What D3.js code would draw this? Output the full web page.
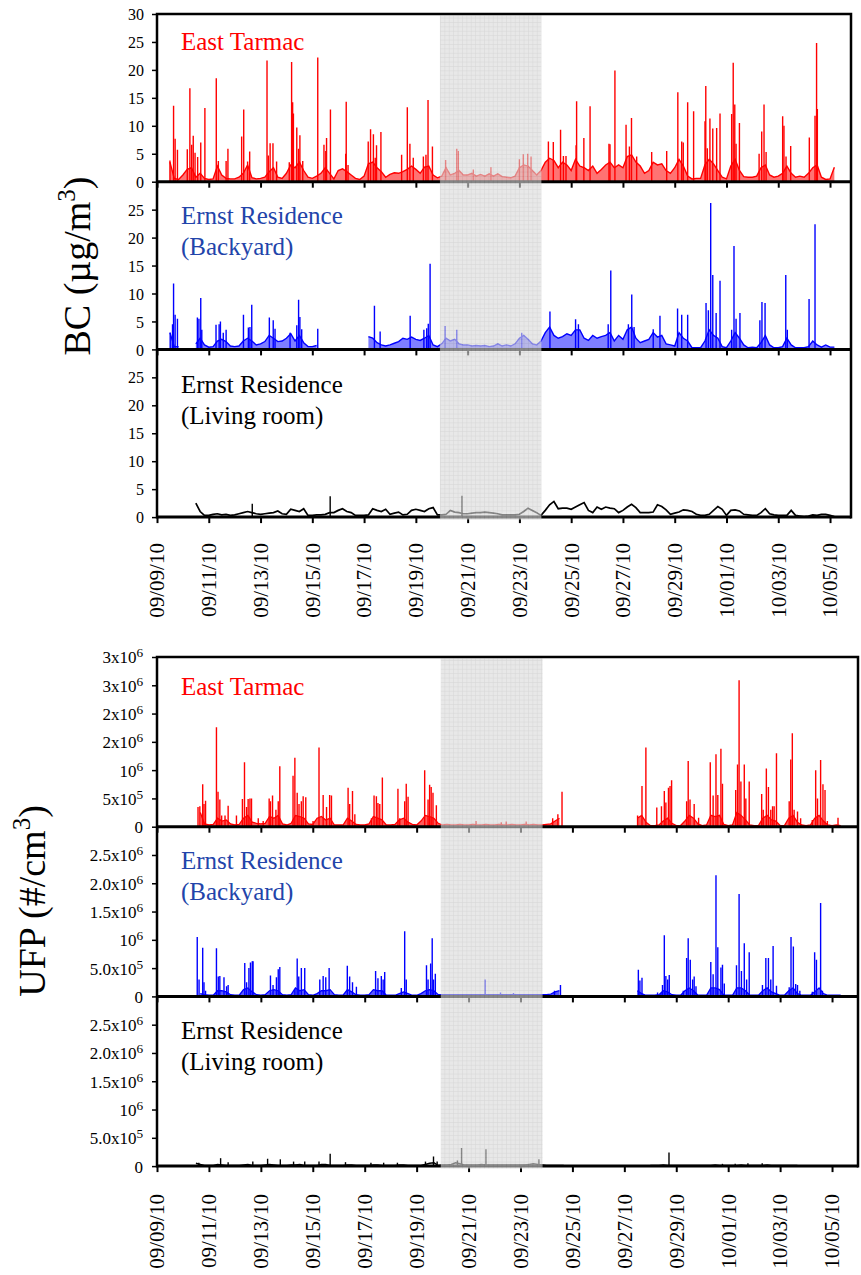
<!DOCTYPE html>
<html>
<head>
<meta charset="utf-8">
<script src="https://cdn.jsdelivr.net/npm/d3@7"></script>
<style>
  body { margin: 0; background: #fff; }
  svg text { font-family: "Liberation Serif", "Times New Roman", serif; fill: #000; }
</style>
</head>
<body>
<div id="chart"></div>
<script>
// ---- data ----------------------------------------------------------------
// base series: one value every 4 hours from 09/09/10 00:00 (6 values per day row)
// spikes: [day offset from 09/09/10, value]

const dateTicks = ["09/09/10", "09/11/10", "09/13/10", "09/15/10", "09/17/10", "09/19/10", "09/21/10",
  "09/23/10", "09/25/10", "09/27/10", "09/29/10", "10/01/10", "10/03/10", "10/05/10"];
const shadedPeriod = [10.93, 14.85];   // days after 09/09/10

// BC, ug/m3
const bcTarmac = [
  null, null, null, 3.5, 0.6, 0.4,
  1.2, 2.2, 2.5, 0.8, 1.5, 0.6,
  0.4, 0.5, 2.8, 1.2, 0.6, 0.5,
  0.5, 0.8, 1.5, 3.0, 0.7, 0.5,
  0.6, 0.8, 1.8, 2.5, 0.8, 0.6,
  1.5, 3.0, 2.5, 3.5, 2.0, 0.8,
  0.6, 1.0, 1.5, 2.5, 1.5, 0.5,
  2.0, 2.3, 1.8, 1.2, 0.6, 0.4,
  1.0, 3.2, 3.5, 2.5, 1.8, 0.8,
  1.3, 1.6, 1.5, 1.8, 2.2, 2.8,
  2.2, 1.5, 2.6, 2.8, 1.2, 0.7,
  1.0, 2.5, 1.2, 1.5, 2.0, 1.2,
  1.2, 1.5, 1.0, 1.3, 1.0, 1.4,
  1.0, 1.4, 0.9, 0.8, 0.7, 1.0,
  2.5, 3.0, 2.8, 2.0, 1.2, 2.0,
  3.5, 4.2, 3.8, 2.5, 3.5, 3.0,
  2.0, 4.0, 2.8, 2.5, 2.0, 2.8,
  1.5, 2.2, 3.0, 3.5, 2.5, 3.0,
  2.5, 4.5, 4.8, 3.5, 2.8, 1.5,
  2.0, 3.5, 3.0, 3.2, 2.0, 1.5,
  2.5, 4.0, 2.8, 1.0, 0.5, 0.6,
  0.6, 3.0, 4.0, 3.2, 2.0, 0.8,
  0.5, 2.8, 4.0, 2.0, 0.9, 0.8,
  0.8, 1.0, 2.5, 3.0, 1.2, 0.8,
  1.0, 1.5, 2.8, 1.5, 0.8, 1.0,
  0.8, 1.5, 2.5, 3.0, 0.8, 0.4,
  0.5, 2.6, null, null, null, null
];
const bcTarmacSpikes = [
  [0.50, 3.8], [0.64, 13.6], [0.70, 7.7], [0.79, 5.7], [1.17, 5.8], [1.27, 16.7], [1.34, 6.6],
  [1.40, 8.2], [1.47, 5.2], [1.57, 4.4], [1.69, 7.0], [1.85, 13.2], [2.29, 18.5], [2.37, 3.7],
  [2.67, 3.7], [2.74, 5.9], [3.27, 8.1], [3.35, 12.9], [3.50, 3.6], [3.58, 5.4], [4.25, 21.7],
  [4.30, 4.7], [4.37, 6.9], [4.48, 6.9], [4.62, 3.6], [5.11, 3.5], [5.20, 21.4], [5.24, 14.2],
  [5.27, 12.2], [5.40, 9.7], [5.47, 5.9], [5.52, 8.3], [5.63, 3.7], [6.21, 22.2], [6.45, 6.6],
  [6.52, 5.5], [6.55, 7.8], [6.70, 12.9], [7.29, 5.0], [7.31, 14.3], [7.38, 3.0], [8.16, 7.2],
  [8.25, 9.4], [8.36, 8.5], [8.43, 4.3], [8.48, 6.5], [8.65, 8.9], [9.45, 4.8], [9.67, 13.3],
  [9.77, 6.8], [9.90, 4.3], [10.29, 4.5], [10.39, 4.8], [10.47, 14.6], [10.64, 6.3],
  [11.15, 3.9], [11.58, 5.9], [11.64, 5.5], [12.22, 2.2], [12.90, 2.6], [14.00, 4.0],
  [14.15, 4.9], [14.32, 5.0], [14.45, 4.5], [15.12, 7.2], [15.31, 7.1], [15.59, 9.3],
  [15.70, 4.6], [15.80, 4.6], [16.19, 6.5], [16.21, 14.4], [16.49, 7.8], [16.73, 13.5],
  [17.46, 6.8], [17.50, 6.7], [17.69, 19.9], [18.12, 10.2], [18.25, 6.3], [18.33, 11.4],
  [18.53, 4.5], [19.11, 5.3], [19.69, 5.5], [20.12, 16.0], [20.27, 7.2], [20.33, 7.0],
  [20.50, 14.2], [20.73, 12.6], [21.17, 10.8], [21.20, 17.1], [21.26, 6.0], [21.36, 11.3],
  [21.47, 9.5], [21.62, 9.6], [21.75, 12.2], [22.20, 12.1], [22.26, 21.3], [22.32, 13.8],
  [22.37, 6.8], [22.50, 10.5], [23.26, 5.0], [23.36, 9.0], [23.45, 13.8], [23.53, 5.3],
  [24.17, 11.7], [24.22, 10.0], [24.30, 4.5], [24.48, 6.4], [25.20, 7.9], [25.42, 11.8],
  [25.48, 24.8], [25.51, 13.0]
];

const bcBackyard = [
  null, null, null, 3.0, 0.5, 0.5,
  null, null, null, 1.0, 2.0, 0.8,
  0.4, 0.5, 1.5, 1.8, 1.4, 0.6,
  0.5, 0.6, 1.5, 2.0, 1.5, 0.8,
  1.0, 1.4, 2.5, 2.0, 1.4, 1.5,
  2.0, 2.8, 1.5, 2.5, 1.2, 0.5,
  0.5, 0.7, null, null, null, null,
  null, null, null, null, null, null,
  null, 2.3, 2.0, 1.2, 0.8, 0.6,
  0.8, 1.1, 1.4, 2.0, 1.8, 2.2,
  1.8, 1.6, 2.0, 2.5, 0.8, 0.5,
  1.0, 2.0, 1.5, 1.8, 1.0, 0.8,
  0.8, 0.6, 0.7, 0.6, 0.7, 0.5,
  0.6, 1.0, 0.6, 0.8, 0.6, 1.0,
  2.0, 2.5, 1.8, 1.0, 0.8, 1.5,
  3.0, 4.0, 2.5, 2.0, 2.3, 2.8,
  2.5, 3.5, 3.5, 2.0, 1.6, 2.5,
  2.0, 2.3, 2.5, 3.0, 1.5, 2.5,
  1.8, 3.5, 4.0, 2.0, 1.2, 1.5,
  1.8, 3.0, 2.2, 2.5, 1.0, 0.8,
  0.6, 3.0, 2.0, 1.5, 0.3, 0.3,
  0.3, 1.5, 3.5, 2.5, 2.0, 0.5,
  0.3, 1.5, 3.0, 2.0, 0.8, 0.3,
  0.4, 0.3, 1.2, 2.5, 0.8, 0.3,
  0.3, 0.5, 2.0, 0.8, 0.3, 0.3,
  0.3, 0.5, 1.5, 0.8, 0.4, 0.8,
  0.4, 0.4, null, null, null, null
];
const bcBackyardSpikes = [
  [0.51, 3.0], [0.60, 4.5], [0.64, 11.8], [0.70, 6.2], [0.79, 5.5], [1.56, 5.7], [1.62, 5.5],
  [1.69, 9.2], [1.73, 3.5], [2.28, 4.4], [2.40, 4.5], [2.45, 5.0], [2.56, 3.0], [2.67, 3.5],
  [3.34, 6.2], [3.53, 3.9], [3.59, 4.0], [3.66, 8.0], [4.34, 5.7], [4.49, 5.2], [4.56, 3.7],
  [5.14, 3.0], [5.40, 4.3], [5.47, 8.9], [5.52, 5.8], [5.59, 3.6], [6.21, 3.7], [8.40, 7.8],
  [8.62, 3.2], [9.78, 6.0], [10.31, 3.5], [10.42, 3.8], [10.48, 4.6], [10.55, 15.3],
  [11.13, 4.2], [11.58, 3.5], [14.09, 3.0], [15.18, 6.8], [16.17, 5.4], [16.28, 4.5],
  [17.43, 4.5], [17.53, 14.1], [18.21, 4.5], [18.34, 9.8], [18.43, 4.0], [19.17, 3.6],
  [19.43, 6.0], [20.11, 7.3], [20.27, 6.2], [20.50, 6.2], [21.21, 8.3], [21.30, 7.0],
  [21.39, 26.2], [21.47, 13.3], [21.60, 6.5], [21.75, 12.3], [22.20, 3.5], [22.29, 18.5],
  [22.37, 5.5], [22.52, 6.5], [23.29, 5.2], [23.37, 8.5], [23.49, 8.3], [24.29, 13.3],
  [24.35, 3.5], [25.19, 9.0], [25.42, 22.4]
];

const bcLiving = [
  null, null, null, null, null, null,
  null, null, null, 2.5, 1.0, 0.3,
  0.3, 0.5, 0.6, 0.4, 0.5, 0.3,
  0.4, 0.6, 0.8, 1.0, 0.8, 0.6,
  0.5, 0.6, 0.7, 0.8, 1.1, 0.6,
  0.5, 1.4, 1.2, 1.0, 1.5, 0.3,
  0.3, 0.4, 0.4, 0.5, 0.8, 0.8,
  1.2, 1.5, 1.0, 0.8, 0.3, 0.3,
  0.3, 0.4, 1.5, 1.2, 1.0, 1.4,
  0.5, 0.7, 0.9, 0.4, 0.5, 1.2,
  1.4, 1.2, 1.0, 1.5, 1.7, 0.4,
  0.4, 0.5, 1.2, 0.9, 0.8, 0.6,
  0.6, 0.7, 0.8, 0.8, 0.9, 0.8,
  0.7, 0.6, 0.4, 0.4, 0.4, 0.4,
  0.5, 1.0, 1.6, 1.2, 0.8, 0.3,
  1.2, 2.2, 2.8, 1.5, 1.6, 1.6,
  1.4, 1.8, 2.2, 2.6, 1.2, 0.8,
  1.8, 1.4, 1.8, 1.6, 1.5, 0.8,
  1.2, 1.8, 2.3, 1.7, 0.8, 0.8,
  0.8, 0.9, 2.2, 1.9, 1.3, 0.5,
  0.7, 0.9, 1.3, 1.2, 1.0, 0.5,
  0.3, 0.3, 0.5, 1.2, 1.9, 1.4,
  0.3, 1.2, 1.3, 1.1, 0.5, 0.4,
  0.3, 0.3, 0.8, 1.5, 0.6, 0.4,
  0.3, 0.3, 0.3, 1.2, 0.3, 0.2,
  0.1, 0.2, 0.4, 0.3, 0.5, 0.5,
  0.3, 0.1, null, null, null, null
];
const bcLivingSpikes = [[3.68, 2.4], [6.69, 3.75], [11.78, 3.8]];

// UFP, in units of 10^5 #/cm3
const ufpTarmac = [
  null, null, null, null, null, null,
  null, null, null, null, 2.5, 0.5,
  0.3, 0.4, 1.5, 1.0, 1.2, 0.5,
  0.3, 0.4, 1.5, 2.0, 0.8, 0.6,
  0.5, 0.6, 1.8, 1.5, 2.0, 0.5,
  0.3, 0.6, 2.0, 1.8, 1.5, 0.5,
  0.4, 1.5, 1.8, 1.2, 1.5, 0.3,
  0.3, 0.3, 1.5, 1.0, 0.4, 0.3,
  0.3, 0.5, 1.8, 1.5, 1.2, 0.3,
  0.3, 0.4, 1.2, 1.5, 0.8, 0.4,
  0.3, 1.0, 2.0, 1.8, 1.5, 0.6,
  0.3, 0.4, 0.3, 0.3, 0.4, 0.3,
  0.3, 0.4, 0.3, 0.3, 0.4, 0.3,
  0.3, 0.4, 0.3, 0.3, 0.4, 0.3,
  0.3, 0.4, 0.3, 0.4, 0.3, 0.3,
  0.4, 0.5, 1.0, 1.5, null, null,
  null, null, null, null, null, null,
  null, null, null, null, null, null,
  null, null, null, 1.5, 2.0, 0.8,
  0.2, 0.2, 0.3, 1.0, 1.5, 0.6,
  0.2, 0.2, 1.0, 2.0, 1.5, 0.5,
  0.2, 0.3, 2.0, 1.8, 2.0, 0.4,
  0.2, 0.3, 2.5, 2.0, 1.2, 0.3,
  0.2, 0.2, 1.5, 2.0, 1.2, 1.0,
  0.2, 0.2, 1.5, 2.0, 0.8, 0.3,
  0.2, 0.3, 1.5, 2.0, 1.0, 0.3,
  0.2, 0.3, 0.2, null, null, null
];
const ufpTarmacSpikes = [
  [1.58, 3.5], [1.65, 3.6], [1.76, 7.5], [1.81, 4.0], [1.87, 4.6], [2.29, 17.6], [2.35, 6.2],
  [2.42, 4.8], [2.49, 2.0], [2.62, 2.0], [2.74, 3.7], [3.06, 2.0], [3.29, 4.9], [3.37, 11.4],
  [3.45, 3.5], [3.51, 4.9], [3.58, 5.0], [3.64, 5.0], [3.90, 1.5], [4.09, 1.0], [4.32, 5.0],
  [4.37, 4.5], [4.45, 5.5], [4.58, 3.0], [4.67, 4.5], [4.73, 10.7], [5.24, 9.0], [5.31, 12.2],
  [5.40, 6.0], [5.47, 4.0], [5.56, 4.5], [5.63, 5.4], [5.73, 5.2], [6.01, 1.0], [6.24, 14.0],
  [6.40, 5.6], [6.53, 3.5], [6.65, 5.6], [6.72, 5.5], [7.36, 6.9], [7.42, 4.0], [7.53, 6.3],
  [7.62, 2.2], [8.26, 1.5], [8.36, 5.5], [8.45, 5.4], [8.51, 4.2], [8.58, 4.0], [8.68, 8.7],
  [9.28, 6.7], [9.35, 1.5], [9.54, 4.5], [9.60, 7.6], [9.67, 5.3], [10.31, 10.0], [10.44, 4.8],
  [10.50, 7.4], [10.56, 7.0], [10.63, 6.0], [10.76, 3.8], [12.29, 1.0], [13.26, 0.8],
  [13.45, 0.9], [14.22, 0.9], [15.24, 1.5], [15.44, 2.2], [15.60, 6.2], [18.51, 2.0],
  [18.68, 7.2], [18.83, 14.0], [19.25, 3.4], [19.43, 3.6], [19.54, 6.3], [19.60, 4.3],
  [19.70, 6.9], [19.76, 7.2], [19.82, 8.2], [20.40, 4.5], [20.46, 11.6], [20.53, 4.8],
  [20.69, 4.0], [20.86, 1.6], [21.31, 11.4], [21.42, 5.5], [21.53, 12.8], [21.60, 5.6],
  [21.72, 13.8], [21.78, 7.6], [22.29, 6.5], [22.36, 11.0], [22.42, 25.9], [22.49, 8.0],
  [22.62, 11.0], [22.68, 5.0], [22.81, 8.0], [23.29, 5.8], [23.35, 3.0], [23.47, 10.3],
  [23.55, 7.0], [23.64, 3.0], [23.71, 3.6], [23.77, 3.6], [23.86, 13.0], [24.35, 4.5],
  [24.41, 11.9], [24.47, 16.5], [24.54, 3.0], [24.67, 2.7], [24.79, 1.5], [25.24, 1.2],
  [25.37, 10.0], [25.44, 5.0], [25.56, 11.8], [25.65, 7.5], [25.73, 6.5], [25.82, 1.0],
  [26.23, 1.6]
];

const ufpBackyard = [
  null, null, null, null, null, null,
  null, null, null, null, 0.5, 0.3,
  0.2, 0.2, 1.0, 1.0, 0.8, 0.3,
  0.2, 0.2, 1.2, 1.5, 0.8, 0.3,
  0.2, 0.3, 1.0, 1.2, 1.0, 0.3,
  0.2, 0.3, 1.5, 1.0, 1.2, 0.3,
  0.2, 0.5, 1.0, 1.0, 1.2, 0.3,
  0.2, 0.2, 1.2, 0.8, 0.3, 0.2,
  0.2, 0.3, 1.2, 1.0, 1.0, 0.2,
  0.2, 0.2, 0.5, 0.8, 0.5, 0.2,
  0.2, 0.5, 1.0, 1.2, 1.0, 0.3,
  0.3, 0.3, 0.3, 0.3, 0.3, 0.3,
  0.3, 0.3, 0.3, 0.3, 0.3, 0.3,
  0.3, 0.3, 0.3, 0.3, 0.3, 0.3,
  0.3, 0.3, 0.3, 0.3, 0.3, 0.3,
  0.3, 0.4, 0.8, 1.0, null, null,
  null, null, null, null, null, null,
  null, null, null, null, null, null,
  null, null, null, 1.0, 0.5, 0.2,
  0.2, 0.2, 0.3, 1.0, 0.8, 0.3,
  0.2, 0.2, 1.0, 1.5, 1.0, 0.2,
  0.2, 0.2, 1.5, 1.5, 1.2, 0.2,
  0.2, 0.2, 1.5, 1.5, 1.0, 0.2,
  0.2, 0.2, 1.0, 1.5, 0.8, 0.5,
  0.2, 0.2, 1.0, 1.5, 0.5, 0.2,
  0.2, 0.2, 0.8, 1.5, 0.5, 0.2,
  0.2, 0.2, 0.2, null, null, null
];
const ufpBackyardSpikes = [
  [1.55, 10.5], [1.62, 3.0], [1.76, 8.6], [1.81, 2.5], [1.87, 1.0], [2.29, 8.5], [2.36, 3.5],
  [2.42, 3.6], [2.58, 3.4], [2.68, 1.8], [2.74, 2.0], [3.38, 5.9], [3.45, 2.5], [3.54, 5.0],
  [3.60, 6.0], [3.67, 6.2], [3.70, 6.2], [4.37, 3.7], [4.47, 2.0], [4.60, 3.4], [4.67, 4.8],
  [4.73, 5.2], [5.31, 1.3], [5.40, 6.7], [5.46, 3.5], [5.56, 5.0], [5.69, 5.0], [6.27, 3.0],
  [6.40, 3.6], [6.50, 3.4], [6.63, 5.0], [7.33, 5.4], [7.42, 3.5], [7.53, 2.5], [7.68, 1.7],
  [8.42, 4.5], [8.51, 3.2], [8.64, 3.6], [8.71, 3.0], [8.77, 4.3], [9.41, 1.5], [9.54, 11.5],
  [9.60, 3.0], [10.38, 5.5], [10.44, 3.0], [10.54, 5.8], [10.60, 10.3], [10.65, 3.0],
  [10.72, 4.0], [12.64, 3.0], [13.23, 0.7], [13.73, 0.6], [15.31, 1.0], [15.54, 2.0],
  [18.54, 4.7], [18.60, 2.8], [18.68, 3.3], [19.28, 0.7], [19.41, 0.6], [19.47, 2.0],
  [19.54, 10.8], [19.60, 3.6], [19.67, 3.0], [19.73, 3.8], [20.27, 1.0], [20.40, 6.8],
  [20.46, 10.3], [20.54, 6.5], [20.63, 3.0], [20.69, 3.5], [20.76, 1.8], [21.33, 6.1],
  [21.42, 3.9], [21.53, 21.4], [21.60, 8.7], [21.72, 5.1], [21.78, 5.6], [21.85, 2.3],
  [22.32, 5.5], [22.42, 18.1], [22.51, 4.5], [22.62, 9.4], [22.71, 3.0], [22.81, 7.8],
  [23.32, 2.0], [23.45, 6.8], [23.55, 6.8], [23.64, 3.0], [23.73, 8.9], [23.86, 1.9],
  [24.35, 1.6], [24.42, 10.5], [24.51, 8.8], [24.60, 2.2], [24.67, 2.0], [24.76, 1.0],
  [25.24, 0.8], [25.33, 7.8], [25.40, 6.5], [25.56, 16.5], [25.63, 1.0]
];

const ufpLiving = [
  null, null, null, null, null, null,
  null, null, null, 0.5, 0.3, 0.1,
  0.1, 0.1, 0.3, 0.2, 0.1, 0.1,
  0.1, 0.1, 0.2, 0.3, 0.1, 0.1,
  0.1, 0.2, 0.3, 0.2, 0.1, 0.1,
  0.1, 0.2, 0.2, 0.3, 0.1, 0.1,
  0.1, 0.1, 0.3, 0.3, 0.1, 0.1,
  0.1, 0.1, 0.2, 0.2, 0.1, 0.1,
  0.1, 0.1, 0.2, 0.2, 0.1, 0.1,
  0.1, 0.1, 0.2, 0.2, 0.1, 0.1,
  0.1, 0.1, 0.3, 0.5, 0.6, 0.1,
  0.2, 0.2, 0.3, 0.6, 0.4, 0.2,
  0.2, 0.2, 0.2, 0.3, 0.2, 0.2,
  0.2, 0.2, 0.2, 0.2, 0.2, 0.2,
  0.2, 0.2, 0.3, 0.4, 0.3, 0.2,
  0.1, 0.1, 0.1, 0.1, 0.1, null,
  null, null, null, null, null, null,
  null, null, null, null, null, null,
  null, null, null, null, null, null,
  0.1, 0.1, 0.1, 0.2, 0.1, 0.1,
  0.1, 0.1, 0.1, 0.1, 0.1, 0.1,
  0.1, 0.1, 0.1, 0.2, 0.1, 0.1,
  0.1, 0.1, 0.1, 0.2, 0.1, 0.1,
  0.1, 0.1, 0.1, 0.2, 0.1, 0.1,
  0.1, 0.1, 0.1, 0.1, 0.1, null,
  null, null, null, null, null, null,
  null, null, null, null, null, null
];
const ufpLivingSpikes = [
  [1.61, 0.6], [2.45, 1.4], [2.74, 0.7], [3.69, 0.8], [4.26, 1.3], [4.75, 1.2], [5.26, 0.8],
  [5.69, 0.8], [6.24, 0.8], [6.67, 2.2], [7.26, 0.7], [8.24, 0.6], [8.73, 0.6], [9.26, 0.6],
  [10.34, 0.8], [10.65, 1.7], [10.79, 0.8], [11.57, 1.0], [11.73, 3.2], [12.67, 3.0],
  [14.71, 1.2], [19.72, 2.4], [20.60, 0.2], [21.78, 0.4], [22.27, 0.4], [22.76, 0.5], [23.31, 0.5]
];

const bcTicks = [0, 5, 10, 15, 20, 25, 30];
const ufpTicks = [0, 5, 10, 15, 20, 25, 30];
const ufpTopTickLabels = ["0", "5x10^5", "10^6", "2x10^6", "2x10^6", "3x10^6", "3x10^6"];
const ufpTickLabels = ["0", "5.0x10^5", "10^6", "1.5x10^6", "2.0x10^6", "2.5x10^6"];

// ---- drawing -------------------------------------------------------------

const W = 861, H = 1275;
const t0 = Date.UTC(2010, 8, 9);
const DAY = 864e5;
const atDay = d => new Date(t0 + d * DAY);
const parseTick = s => { let p = s.split("/"); return new Date(Date.UTC(2000 + +p[2], +p[0] - 1, +p[1])); };

const svg = d3.select("#chart").append("svg")
  .attr("width", W)
  .attr("height", H)
  .attr("font-family", "Liberation Serif, Times New Roman, serif");

// grey hatched pattern for the shaded period
let pat = svg.append("defs").append("pattern")
  .attr("id", "shadeGrid")
  .attr("width", 4.4).attr("height", 4.4)
  .attr("patternUnits", "userSpaceOnUse");
pat.append("rect").attr("width", 4.4).attr("height", 4.4).attr("fill", "#dadada");
pat.append("path").attr("d", "M0,0.2H4.4M0.2,0V4.4").attr("stroke", "#bdbdbd").attr("stroke-width", 0.7);

function tickText(sel, label, size) {
  let parts = label.split("^");
  sel.append("tspan").text(parts[0]);
  if (parts[1]) sel.append("tspan").attr("dy", "-0.45em").style("font-size", (size * 0.78) + "px").text(parts[1]);
}

function drawGroup(cfg) {
  let x = d3.scaleUtc()
    .domain([atDay(0), atDay(cfg.endDay)])
    .range([cfg.left, cfg.right]);

  let tickDates = dateTicks.map(parseTick);
  let bottomAll = cfg.top + cfg.panelH * cfg.panels.length;

  cfg.panels.forEach((p, i) => {
    let top = cfg.top + i * cfg.panelH;
    let bottom = top + cfg.panelH;
    let y = d3.scaleLinear().domain([0, 30]).range([bottom, top]);

    let g = svg.append("g");
    let clipId = "clip" + cfg.id + i;
    g.append("clipPath").attr("id", clipId)
      .append("rect").attr("x", cfg.left).attr("y", top).attr("width", cfg.right - cfg.left).attr("height", cfg.panelH);
    let plot = g.append("g").attr("clip-path", `url(#${clipId})`);

    let pts = p.base.map((v, k) => ({t: atDay(k / 6), v: v}));

    if (p.fill > 0) {
      let area = d3.area()
        .defined(d => d.v != null)
        .x(d => x(d.t))
        .y0(y(0))
        .y1(d => y(d.v));
      plot.append("path")
        .datum(pts)
        .attr("d", area)
        .attr("fill", p.color)
        .attr("fill-opacity", p.fill);
    }

    let line = d3.line()
      .defined(d => d.v != null)
      .x(d => x(d.t))
      .y(d => y(d.v));
    plot.append("path")
      .datum(pts)
      .attr("d", line)
      .attr("fill", "none")
      .attr("stroke", p.color)
      .attr("stroke-width", p.width);

    plot.selectAll(".spike")
      .data(p.spikes)
      .enter()
      .append("line")
      .attr("class", "spike")
      .attr("x1", d => x(atDay(d[0])))
      .attr("x2", d => x(atDay(d[0])))
      .attr("y1", y(0))
      .attr("y2", d => y(d[1]))
      .attr("stroke", p.color)
      .attr("stroke-width", 1.4);

    // panel label
    let lab = g.append("text")
      .attr("x", cfg.left + 24)
      .attr("y", top + p.labelDy)
      .style("font-size", "25px")
      .style("fill", p.textColor);
    p.label.forEach((s, k) => {
      lab.append("tspan").attr("x", cfg.left + 24).attr("dy", k === 0 ? 0 : 31).text(s);
    });

    // y axis ticks
    let tv = i === 0 ? cfg.ticks : cfg.ticks.slice(0, -1);
    let labels = i === 0 ? cfg.topLabels : cfg.labels;
    let yAxis = d3.axisLeft(y).tickValues(tv).tickSize(5).tickSizeOuter(0).tickFormat("");
    let ya = g.append("g")
      .attr("transform", `translate(${cfg.left},0)`)
      .call(yAxis)
      .attr("font-family", null);
    ya.select(".domain").remove();
    ya.selectAll(".tick line").attr("stroke", "#000").attr("stroke-width", 1.5);
    ya.selectAll(".tick").each(function (d, k) {
      let t = d3.select(this).append("text")
        .attr("x", -cfg.labelGap)
        .attr("dy", "0.35em")
        .attr("text-anchor", "end")
        .style("font-size", cfg.tickFont + "px")
        .style("fill", "#000");
      tickText(t, labels[k], cfg.tickFont);
    });

    // x axis ticks on each panel
    let xAxis = d3.axisBottom(x).tickValues(tickDates).tickSize(6).tickSizeOuter(0).tickFormat("");
    let xa = g.append("g")
      .attr("class", "x-axis")
      .attr("transform", `translate(0,${bottom})`)
      .call(xAxis);
    xa.select(".domain").remove();
    xa.selectAll(".tick line").attr("stroke", "#000").attr("stroke-width", 2);

    g.append("line")
      .attr("x1", cfg.left).attr("x2", cfg.right)
      .attr("y1", bottom).attr("y2", bottom)
      .attr("stroke", "#000").attr("stroke-width", 3);
  });

  // shaded period on top of the data
  svg.append("rect")
    .attr("x", x(atDay(shadedPeriod[0])))
    .attr("y", cfg.top + 1.5)
    .attr("width", x(atDay(shadedPeriod[1])) - x(atDay(shadedPeriod[0])))
    .attr("height", bottomAll - cfg.top + 1)
    .attr("fill", "url(#shadeGrid)")
    .attr("opacity", 0.62);

  // frame: left axis, top and right border
  svg.append("path")
    .attr("d", `M${cfg.left},${bottomAll + 1.5}V${cfg.top}H${cfg.right}V${bottomAll + 1.5}`)
    .attr("fill", "none")
    .attr("stroke", "#000")
    .attr("stroke-width", 2.5);

  // date labels under the last panel
  svg.append("g").selectAll("text")
    .data(tickDates)
    .enter()
    .append("text")
    .attr("transform", (d) => `translate(${x(d)},${bottomAll + cfg.dateGap}) rotate(-90)`)
    .attr("dy", "0.35em")
    .attr("text-anchor", "end")
    .style("font-size", "21px")
    .text((d, k) => dateTicks[k]);

  // axis title
  let title = svg.append("text")
    .attr("transform", `translate(${cfg.titleX},${cfg.titleY}) rotate(-90)`)
    .attr("text-anchor", "middle")
    .style("font-size", "38px");
  title.append("tspan").text(cfg.title);
  title.append("tspan").attr("dy", -15).style("font-size", "25px").text("3");
  title.append("tspan").attr("dy", 15).text(")");
}

drawGroup({
  id: "bc", left: 157, right: 851, top: 14, panelH: 167.7, endDay: 26.81,
  ticks: bcTicks, topLabels: bcTicks.map(String), labels: bcTicks.map(String),
  tickFont: 16, labelGap: 13, dateGap: 26,
  title: "BC (\u00b5g/m", titleX: 90, titleY: 266,
  panels: [
    {label: ["East Tarmac"], labelDy: 36, color: "#ff0000", textColor: "#ff0000", fill: 0.55, width: 1.4, base: bcTarmac, spikes: bcTarmacSpikes},
    {label: ["Ernst Residence", "(Backyard)"], labelDy: 42, color: "#0000ff", textColor: "#2244aa", fill: 0.5, width: 1.4, base: bcBackyard, spikes: bcBackyardSpikes},
    {label: ["Ernst Residence", "(Living room)"], labelDy: 44, color: "#000000", textColor: "#000000", fill: 0, width: 1.7, base: bcLiving, spikes: bcLivingSpikes}
  ]
});

drawGroup({
  id: "ufp", left: 157, right: 858, top: 657, panelH: 169.7, endDay: 27,
  ticks: ufpTicks, topLabels: ufpTopTickLabels, labels: ufpTickLabels,
  tickFont: 17, labelGap: 14, dateGap: 28,
  title: "UFP (#/cm", titleX: 45, titleY: 901,
  panels: [
    {label: ["East Tarmac"], labelDy: 38, color: "#ff0000", textColor: "#ff0000", fill: 0.65, width: 1.3, base: ufpTarmac, spikes: ufpTarmacSpikes},
    {label: ["Ernst Residence", "(Backyard)"], labelDy: 42, color: "#0000ff", textColor: "#2244aa", fill: 0.65, width: 1.3, base: ufpBackyard, spikes: ufpBackyardSpikes},
    {label: ["Ernst Residence", "(Living room)"], labelDy: 43, color: "#000000", textColor: "#000000", fill: 0, width: 1.5, base: ufpLiving, spikes: ufpLivingSpikes}
  ]
});
</script>
</body>
</html>
